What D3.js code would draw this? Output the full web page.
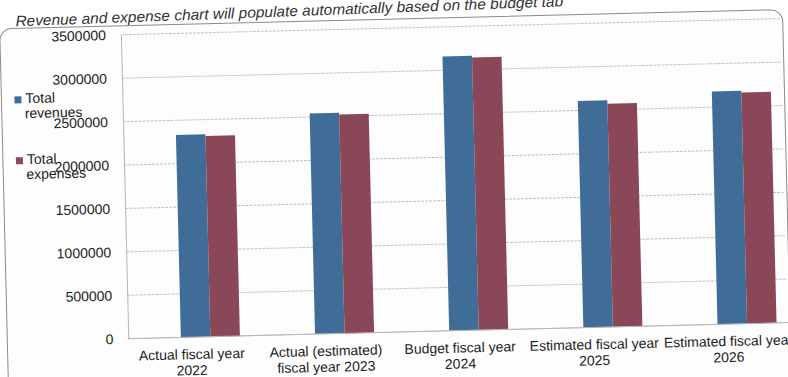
<!DOCTYPE html>
<html><head><meta charset="utf-8">
<script src="https://cdn.jsdelivr.net/npm/d3@7"></script>
<style>
html,body{margin:0;padding:0;background:#fff;}
svg{display:block;}
text{font-family:"Liberation Sans",Arial,sans-serif;}
</style></head>
<body>
<svg id="chart" width="788" height="377"></svg>
<script>
const titleText = "Revenue and expense chart will populate automatically based on the budget tab";
const categories = ["Actual fiscal year\n2022","Actual (estimated)\nfiscal year 2023","Budget fiscal year\n2024","Estimated fiscal year\n2025","Estimated fiscal year\n2026"];
const seriesNames = ["Total revenues","Total expenses"];
const revenues = [2330000, 2540000, 3160000, 2610000, 2680000];
const expenses = [2310000, 2520000, 3140000, 2570000, 2660000];
const yTicks = [0,500000,1000000,1500000,2000000,2500000,3000000,3500000];
const colors = ["#3f6d97","#8a4757"];

const svg = d3.select("#chart");
svg.append("rect").attr("width",788).attr("height",377).attr("fill","#ffffff");
const root = svg.append("g").attr("transform","rotate(-1.4,400,200)");

// title
root.append("text").attr("x",20).attr("y",17)
  .attr("transform","rotate(-0.7,20,17)")
  .attr("font-family","'DejaVu Sans',sans-serif").attr("font-style","italic")
  .attr("font-size",15).attr("fill","#333")
  .attr("textLength",548).attr("lengthAdjust","spacingAndGlyphs")
  .text(titleText);

// chart box
root.append("rect").attr("x",4).attr("y",19).attr("width",783).attr("height",420).attr("rx",12)
  .attr("fill","#fdfdfd").attr("stroke","#8a8a8a").attr("stroke-width",1);

const y = d3.scaleLinear().domain([0,3500000]).range([332,28]);
const x = d3.scaleBand().domain(categories).range([140,811]).paddingInner(0.56).paddingOuter(0.28);
const x1 = d3.scaleBand().domain(seriesNames).range([0,x.bandwidth()]);

// gridlines
root.append("g").selectAll("line").data(yTicks).join("line")
  .attr("x1",125).attr("x2",785).attr("y1",d=>y(d)).attr("y2",d=>y(d))
  .attr("stroke","#c4c4c4").attr("stroke-width",1).attr("stroke-dasharray","3,1");

// y axis
const yAxis = root.append("g").attr("transform","translate(125,0)")
  .call(d3.axisLeft(y).tickValues(yTicks).tickSize(0).tickPadding(15).tickFormat(d3.format("d")));
yAxis.select(".domain").attr("stroke","#b5b5b5");
yAxis.selectAll("text").attr("font-size",14).attr("fill","#1e1e1e")
  .attr("font-family","'Liberation Sans',Arial,sans-serif");

// bars
const data = categories.map((c,i)=>({c, vals:[revenues[i],expenses[i]]}));
const groups = root.append("g").selectAll("g").data(data).join("g")
  .attr("transform",d=>`translate(${x(d.c)},0)`);
groups.selectAll("rect").data(d=>d.vals.map((v,j)=>({name:seriesNames[j],v,j}))).join("rect")
  .attr("x",d=>x1(d.name)).attr("width",x1.bandwidth())
  .attr("y",d=>y(d.v)).attr("height",d=>y(0)-y(d.v))
  .attr("fill",d=>colors[d.j]);

// x axis line
root.append("line").attr("x1",125).attr("x2",785).attr("y1",y(0)).attr("y2",y(0))
  .attr("stroke","#b5b5b5");

// category labels
const lab = root.append("g").selectAll("text").data(categories).join("text")
  .attr("text-anchor","middle").attr("font-size",14).attr("fill","#1e1e1e")
  .attr("transform",d=>`translate(${x(d)+x.bandwidth()/2-19},354)`);
lab.selectAll("tspan").data(d=>d.split("\n")).join("tspan")
  .attr("x",0).attr("dy",(d,i)=>i===0?0:16).text(d=>d);

// legend
const leg = root.append("g").selectAll("g").data(seriesNames).join("g")
  .attr("transform",(d,i)=>`translate(17,${94+i*61})`);
leg.append("rect").attr("x",0).attr("y",-7).attr("width",7).attr("height",7).attr("fill",(d,i)=>colors[i]);
leg.append("text").attr("font-size",14).attr("fill","#1e1e1e").selectAll("tspan")
  .data(d=>d.split(" ")).join("tspan")
  .attr("x",(d,i)=>i===0?11:10).attr("dy",(d,i)=>i===0?0:15).text(d=>d);
</script>
</body></html>
